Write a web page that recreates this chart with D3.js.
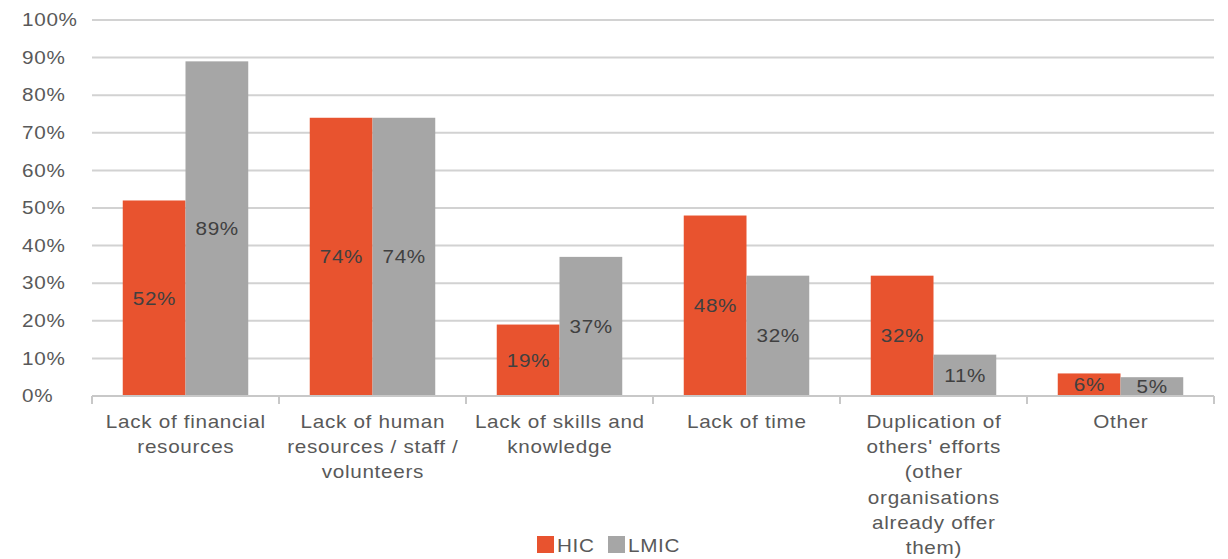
<!DOCTYPE html>
<html>
<head>
<meta charset="utf-8">
<script src="https://cdn.jsdelivr.net/npm/d3@7"></script>
<style>
  html, body { margin: 0; padding: 0; background: #fff; }
  svg { display: block; font-family: "Liberation Sans", Arial, sans-serif; }
  .lbl { font-size: 18px; letter-spacing: 0.6px; }
</style>
</head>
<body>
<svg id="chart" width="1228" height="559"></svg>
<script>
// Barriers reported, by income group
const categories = [
  ["Lack of financial", "resources"],
  ["Lack of human", "resources / staff /", "volunteers"],
  ["Lack of skills and", "knowledge"],
  ["Lack of time"],
  ["Duplication of", "others' efforts", "(other", "organisations", "already offer", "them)"],
  ["Other"]
];
const seriesNames = ["HIC", "LMIC"];
const hicValues = [52, 74, 19, 48, 32, 6];
const lmicValues = [89, 74, 37, 32, 11, 5];
const yTicks = [0, 10, 20, 30, 40, 50, 60, 70, 80, 90, 100];
const colors = ["#E8532F", "#A6A6A6"];

const svg = d3.select("#chart");
const margin = { left: 92, right: 14, top: 20, bottom: 163 };
const W = 1228, H = 559;
const SX = 1.15;  // horizontal stretch of the label type
const LS = 0.6;   // letter spacing, used to re-centre middle-anchored text

const x = d3.scaleBand()
  .domain(d3.range(categories.length))
  .range([margin.left, W - margin.right])
  .paddingInner(0).paddingOuter(0);

const inner = d3.scaleBand()
  .domain(seriesNames)
  .range([0, x.bandwidth()])
  .paddingOuter(0.49).paddingInner(0);

const y = d3.scaleLinear().domain([0, 100]).range([H - margin.bottom, margin.top]);

// gridlines
svg.append("g")
  .selectAll("line")
  .data(yTicks.filter(d => d > 0))
  .join("line")
  .attr("x1", margin.left).attr("x2", W - margin.right)
  .attr("y1", d => y(d)).attr("y2", d => y(d))
  .attr("stroke", "#d2d2d2").attr("stroke-width", 2);

// y axis labels (left aligned)
const yAxis = d3.axisLeft(y).tickValues(yTicks).tickFormat(d => d + "%").tickSize(0).tickPadding(0);
const gy = svg.append("g").attr("transform", `translate(22,0)`).call(yAxis);
gy.select(".domain").remove();
gy.selectAll("text")
  .attr("class", "lbl")
  .attr("text-anchor", "start")
  .attr("fill", "#595959")
  .attr("transform", `scale(${SX},1)`)
  .style("font-family", "'Liberation Sans', Arial, sans-serif");

// bars
const data = categories.map((c, i) => ({ i, vals: [hicValues[i], lmicValues[i]] }));
const groups = svg.append("g").selectAll("g")
  .data(data).join("g")
  .attr("transform", d => `translate(${x(d.i)},0)`);

groups.selectAll("rect")
  .data(d => d.vals.map((v, k) => ({ v, k })))
  .join("rect")
  .attr("x", d => inner(seriesNames[d.k]))
  .attr("width", inner.bandwidth())
  .attr("y", d => y(d.v))
  .attr("height", d => y(0) - y(d.v))
  .attr("fill", d => colors[d.k]);

groups.selectAll("text.val")
  .data(d => d.vals.map((v, k) => ({ v, k })))
  .join("text")
  .attr("class", "val lbl")
  .attr("transform", d =>
    `translate(${inner(seriesNames[d.k]) + inner.bandwidth() / 2 + LS * SX / 2},${(y(d.v) + y(0)) / 2}) scale(${SX},1)`)
  .attr("dy", "0.36em")
  .attr("text-anchor", "middle")
  .attr("fill", "#404040")
  .text(d => d.v + "%");

// x axis line with boundary ticks
const base = y(0);
svg.append("line")
  .attr("x1", margin.left).attr("x2", W - margin.right)
  .attr("y1", base).attr("y2", base)
  .attr("stroke", "#c8c8c8").attr("stroke-width", 2);
svg.append("g").selectAll("line")
  .data(d3.range(categories.length + 1))
  .join("line")
  .attr("x1", i => i < categories.length ? x(i) : W - margin.right)
  .attr("x2", i => i < categories.length ? x(i) : W - margin.right)
  .attr("y1", base).attr("y2", base + 8)
  .attr("stroke", "#c8c8c8").attr("stroke-width", 2);

// category labels
svg.append("g").selectAll("text")
  .data(categories)
  .join("text")
  .attr("class", "lbl")
  .attr("text-anchor", "middle")
  .attr("fill", "#595959")
  .attr("transform", (d, i) =>
    `translate(${x(i) + x.bandwidth() / 2 + LS * SX / 2},${base + 32}) scale(${SX},1)`)
  .selectAll("tspan")
  .data(d => d)
  .join("tspan")
  .attr("x", 0)
  .attr("y", (d, j) => j * 25.2)
  .text(d => d);

// legend
const legend = svg.append("g").attr("transform", "translate(537,536)");
const items = legend.selectAll("g").data(seriesNames).join("g")
  .attr("transform", (d, i) => `translate(${i * 71},0)`);
items.append("rect").attr("width", 17).attr("height", 17).attr("fill", (d, i) => colors[i]);
items.append("text").attr("class", "lbl")
  .attr("transform", `translate(20,16) scale(${SX},1)`)
  .attr("fill", "#595959").text(d => d);
</script>
</body>
</html>
